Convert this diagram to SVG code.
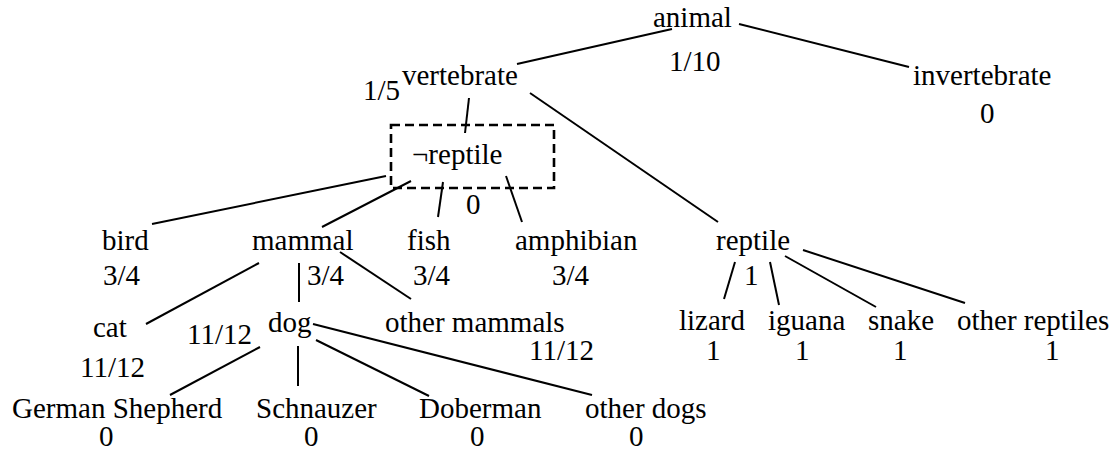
<svg xmlns="http://www.w3.org/2000/svg" width="1114" height="450" viewBox="0 0 1114 450">
<rect width="1114" height="450" fill="#fff"/>
<g id="connectors" stroke="#000" stroke-width="2">
<line x1="672" y1="29" x2="517" y2="64"/>
<line x1="739" y1="24" x2="909" y2="67"/>
<line x1="469" y1="98" x2="465" y2="133"/>
<line x1="530" y1="93" x2="718" y2="222"/>
<line x1="386" y1="176" x2="152" y2="224"/>
<line x1="411" y1="181" x2="322" y2="227"/>
<line x1="443" y1="182" x2="438" y2="217"/>
<line x1="506" y1="176" x2="522" y2="222"/>
<line x1="259" y1="263" x2="146" y2="324"/>
<line x1="299" y1="263" x2="299" y2="302"/>
<line x1="340" y1="252" x2="411" y2="299"/>
<line x1="260" y1="347" x2="170" y2="395"/>
<line x1="298" y1="346" x2="298" y2="386"/>
<line x1="316" y1="340" x2="429" y2="396"/>
<line x1="313" y1="324" x2="592" y2="395"/>
<line x1="735" y1="262" x2="724" y2="299"/>
<line x1="770" y1="262" x2="779" y2="305"/>
<line x1="785" y1="256" x2="876" y2="307"/>
<line x1="803" y1="250" x2="965" y2="303"/>
</g>
<g font-size="29" fill="#000">
<g id="animal"><text font-family="Liberation Serif" x="653" y="27">animal</text><text font-family="Liberation Serif" x="669" y="71">1/10</text></g>
<g id="vertebrate"><text font-family="Liberation Serif" x="402" y="85">vertebrate</text><text font-family="Liberation Serif" x="363" y="100">1/5</text></g>
<g id="invertebrate"><text font-family="Liberation Serif" x="913" y="85">invertebrate</text><text font-family="Liberation Serif" x="980" y="123">0</text></g>
<g id="not-reptile"><rect x="391" y="125" width="163" height="63" fill="none" stroke="#000" stroke-width="2.6" stroke-dasharray="9 5"/><text font-family="Liberation Serif" x="412" y="164">&#172;reptile</text><text font-family="Liberation Serif" x="466" y="214">0</text></g>
<g id="bird"><text font-family="Liberation Serif" x="102" y="250">bird</text><text font-family="Liberation Serif" x="103" y="285">3/4</text></g>
<g id="mammal"><text font-family="Liberation Serif" x="252" y="250">mammal</text><text font-family="Liberation Serif" x="307" y="285">3/4</text></g>
<g id="fish"><text font-family="Liberation Serif" x="407" y="250">fish</text><text font-family="Liberation Serif" x="413" y="285">3/4</text></g>
<g id="amphibian"><text font-family="Liberation Serif" x="515" y="250">amphibian</text><text font-family="Liberation Serif" x="552" y="285">3/4</text></g>
<g id="reptile"><text font-family="Liberation Serif" x="716" y="250">reptile</text><text font-family="Liberation Serif" x="744" y="285">1</text></g>
<g id="cat"><text font-family="Liberation Serif" x="93" y="337">cat</text><text font-family="Liberation Serif" x="80" y="377">11/12</text></g>
<g id="dog"><text font-family="Liberation Serif" x="268" y="332">dog</text><text font-family="Liberation Serif" x="187" y="344">11/12</text></g>
<g id="other-mammals"><text font-family="Liberation Serif" x="385" y="332">other mammals</text><text font-family="Liberation Serif" x="529" y="360">11/12</text></g>
<g id="lizard"><text font-family="Liberation Serif" x="679" y="330">lizard</text><text font-family="Liberation Serif" x="706" y="360">1</text></g>
<g id="iguana"><text font-family="Liberation Serif" x="768" y="330">iguana</text><text font-family="Liberation Serif" x="795" y="360">1</text></g>
<g id="snake"><text font-family="Liberation Serif" x="868" y="330">snake</text><text font-family="Liberation Serif" x="893" y="360">1</text></g>
<g id="other-reptiles"><text font-family="Liberation Serif" x="957" y="330">other reptiles</text><text font-family="Liberation Serif" x="1045" y="360">1</text></g>
<g id="german-shepherd"><text font-family="Liberation Serif" x="12" y="418">German Shepherd</text><text font-family="Liberation Serif" x="99" y="446">0</text></g>
<g id="schnauzer"><text font-family="Liberation Serif" x="256" y="418">Schnauzer</text><text font-family="Liberation Serif" x="304" y="446">0</text></g>
<g id="doberman"><text font-family="Liberation Serif" x="419" y="418">Doberman</text><text font-family="Liberation Serif" x="470" y="446">0</text></g>
<g id="other-dogs"><text font-family="Liberation Serif" x="585" y="418">other dogs</text><text font-family="Liberation Serif" x="629" y="446">0</text></g>
</g>
</svg>
